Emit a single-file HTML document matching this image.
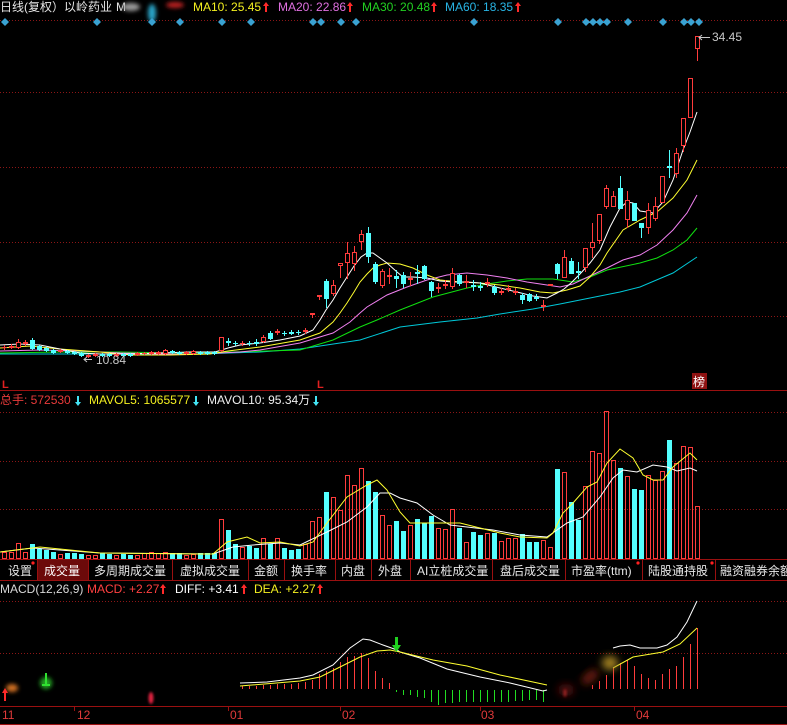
<!DOCTYPE html>
<html><head><meta charset="utf-8">
<style>
html,body{margin:0;padding:0;background:#000;width:787px;height:725px;overflow:hidden}
svg{display:block}
text{font-family:"Liberation Sans","Noto Sans CJK SC",sans-serif;font-size:12px}
</style></head><body>
<svg width="787" height="725" viewBox="0 0 787 725" xmlns="http://www.w3.org/2000/svg">
<defs>
<filter id="b1" x="-50%" y="-50%" width="200%" height="200%"><feGaussianBlur stdDeviation="1.2"/></filter>
<filter id="b2" x="-50%" y="-50%" width="200%" height="200%"><feGaussianBlur stdDeviation="2.2"/></filter>
<filter id="b3" x="-50%" y="-50%" width="200%" height="200%"><feGaussianBlur stdDeviation="4"/></filter>
</defs>
<rect width="787" height="725" fill="#000"/>

<!-- dotted grid -->
<g stroke="#8c1616" stroke-dasharray="1 2" stroke-width="1" shape-rendering="crispEdges">
<path d="M0 20.5H787M0 92.5H787M0 167.5H787M0 242.5H787M0 316.5H787M0 412.5H787M0 461.5H787M0 509.5H787M0 601.5H787M0 653.5H787"/>
</g>

<!-- solid separators -->
<g stroke="#9a1010" stroke-width="1" shape-rendering="crispEdges" fill="none">
<path d="M0 390.5H787M0 559.5H787M0 580.5H787M0 706.5H787M0 724.5H787"/>
<path d="M74.5 706V711M228.5 706V711M340.5 706V711M480.5 706V711M634.5 706V711"/>
</g>

<!-- header -->
<text x="0" y="11" fill="#e6e6e6">日线(复权）以岭药业</text>
<text x="116" y="11" fill="#e6e6e6">M</text>
<g filter="url(#b2)">
<ellipse cx="131" cy="7" rx="9" ry="4" fill="#9a9a9a"/>
<ellipse cx="152" cy="13" rx="4" ry="9" fill="#2aa8cc"/>
<ellipse cx="175" cy="5" rx="9" ry="3" fill="#c02020"/>
</g>
<text x="193" y="11" fill="#f4f020">MA10: 25.45</text>
<text x="278" y="11" fill="#e070e0">MA20: 22.86</text>
<text x="362" y="11" fill="#22d022">MA30: 20.48</text>
<text x="445" y="11" fill="#28b4e4">MA60: 18.35</text>
<g fill="#ff2a2a">
<path d="M263 6L266 2L269 6H267V12H265V6Z"/>
<path d="M347 6L350 2L353 6H351V12H349V6Z"/>
<path d="M431 6L434 2L437 6H435V12H433V6Z"/>
<path d="M515 6L518 2L521 6H519V12H517V6Z"/>
</g>

<!-- diamonds -->
<g fill="#3aa2d2">
<path d="M5 18l4 4-4 4-4-4zM97 18l4 4-4 4-4-4zM152 18l4 4-4 4-4-4zM180 18l4 4-4 4-4-4zM222 18l4 4-4 4-4-4zM251 18l4 4-4 4-4-4zM313 18l4 4-4 4-4-4zM321 18l4 4-4 4-4-4zM341 18l4 4-4 4-4-4zM356 18l4 4-4 4-4-4zM474 18l4 4-4 4-4-4zM558 18l4 4-4 4-4-4zM586 18l4 4-4 4-4-4zM593 18l4 4-4 4-4-4zM600 18l4 4-4 4-4-4zM607 18l4 4-4 4-4-4zM628 18l4 4-4 4-4-4zM663 18l4 4-4 4-4-4zM684 18l4 4-4 4-4-4zM691 18l4 4-4 4-4-4zM699 18l4 4-4 4-4-4z"/>
</g>

<!-- MA lines main -->
<g fill="none" stroke-width="1">
<polyline stroke="#00c8d8" points="0,354 100,354 200,354 260,352 300,349 360,340 400,327 440,322 477,318 500,314 533,309 560,304 590,298 620,292 640,287 673,273 697,257"/>
<polyline stroke="#10e010" points="0,353 60,352 120,352 180,353 233,352 300,350 333,340 360,327 377,320 400,310 433,297 467,288 487,284 507,281 527,279 553,279 573,282 590,277 607,270 640,263 657,258 673,250 687,240 697,228"/>
<polyline stroke="#f080f0" points="0,351 40,350 80,351 120,353 160,354 200,354 240,352 260,350 300,343 333,333 350,322 360,313 367,307 387,295 407,287 427,280 447,275 467,273 487,275 507,278 527,282 547,285 560,287 573,284 590,276 607,268 623,260 640,255 657,245 673,230 687,213 697,195"/>
<polyline stroke="#ffff30" points="0,348 30,346 60,349 100,352 130,355 170,355 210,354 228,351 260,347 300,340 320,333 333,322 340,313 347,303 354,292 360,282 367,274 373,268 380,265 387,263 400,264 413,268 427,275 440,280 460,282 480,283 500,285 520,288 540,292 553,293 567,290 580,286 590,277 600,265 607,253 623,230 640,220 657,212 673,198 687,180 697,160"/>
<polyline stroke="#ffffff" points="0,345 20,344 40,345 60,349 80,353 100,354 130,354 160,353 190,352 215,352 228,348 240,345 260,343 280,340 300,336 313,330 320,320 326,310 333,300 340,288 347,277 354,266 361,257 367,253 373,253 380,258 387,263 397,272 403,277 413,277 427,278 440,281 453,282 467,282 480,283 500,288 517,292 533,296 547,298 557,293 564,289 571,283 580,274 590,263 600,250 610,227 620,208 627,202 633,203 640,211 647,212 653,213 663,202 673,180 683,150 690,132 697,112"/>
</g>

<!-- candles -->
<g shape-rendering="crispEdges">
<path fill="none" stroke="#ff3c3c" d="M4.5 345V350M11.5 344V349M18.5 339V349M25.5 340V346M60.5 349V353M88.5 354V358M95.5 353V357M116.5 353V357M137.5 352V356M144.5 352V355M151.5 351V355M158.5 351V355M165.5 349V355M186.5 351V355M193.5 350V355M221.5 337V352M242.5 341V346M263.5 335V343M277.5 329V335M305.5 328V334M312.5 313V318M319.5 295V300M333.5 280V296M340.5 263V278M347.5 242V279M354.5 246V271M361.5 230V250M382.5 269V288M389.5 268V284M410.5 272V286M438.5 283V293M445.5 280V289M452.5 268V289M466.5 275V288M487.5 278V287M501.5 288V295M508.5 285V292M515.5 288V295M543.5 300V311M550.5 284V286M564.5 250V278M585.5 248V272M592.5 223V258M599.5 214V244M606.5 185V209M613.5 191V207M627.5 191V228M648.5 203V234M655.5 197V221M662.5 176V203M676.5 148V178M683.5 118V152M690.5 78V118M697.5 36V61M2 347.5H7M142 353.5H147M240 343.5H245"/>
<g fill="#000" stroke="#ff3c3c">
<rect x="9.5" y="346.5" width="4" height="1"/><rect x="16.5" y="342.5" width="4" height="5"/><rect x="23.5" y="342.5" width="4" height="1"/><rect x="58.5" y="350.5" width="4" height="1"/><rect x="86.5" y="355.5" width="4" height="1"/><rect x="93.5" y="354.5" width="4" height="1"/><rect x="114.5" y="354.5" width="4" height="1"/><rect x="135.5" y="353.5" width="4" height="1"/><rect x="149.5" y="352.5" width="4" height="1"/><rect x="156.5" y="352.5" width="4" height="1"/><rect x="163.5" y="350.5" width="4" height="3"/><rect x="184.5" y="352.5" width="4" height="1"/><rect x="191.5" y="351.5" width="4" height="2"/><rect x="219.5" y="337.5" width="4" height="13"/><rect x="261.5" y="337.5" width="4" height="4"/><rect x="275.5" y="331.5" width="4" height="1"/><rect x="303.5" y="330.5" width="4" height="1"/><rect x="310.5" y="313.5" width="4" height="1"/><rect x="317.5" y="295.5" width="4" height="1"/><rect x="331.5" y="285.5" width="4" height="8"/><rect x="338.5" y="263.5" width="4" height="2"/><rect x="345.5" y="253.5" width="4" height="9"/><rect x="352.5" y="252.5" width="4" height="11"/><rect x="359.5" y="234.5" width="4" height="7"/><rect x="380.5" y="271.5" width="4" height="14"/><rect x="387.5" y="275.5" width="4" height="1"/><rect x="408.5" y="278.5" width="4" height="1"/><rect x="436.5" y="287.5" width="4" height="1"/><rect x="443.5" y="284.5" width="4" height="1"/><rect x="450.5" y="273.5" width="4" height="13"/><rect x="464.5" y="281.5" width="4" height="1"/><rect x="485.5" y="282.5" width="4" height="1"/><rect x="499.5" y="291.5" width="4" height="1"/><rect x="506.5" y="288.5" width="4" height="1"/><rect x="513.5" y="291.5" width="4" height="1"/><rect x="541.5" y="305.5" width="4" height="1"/><rect x="548.5" y="284.5" width="4" height="1"/><rect x="562.5" y="257.5" width="4" height="20"/><rect x="583.5" y="248.5" width="4" height="19"/><rect x="590.5" y="242.5" width="4" height="5"/><rect x="597.5" y="214.5" width="4" height="26"/><rect x="604.5" y="188.5" width="4" height="18"/><rect x="611.5" y="196.5" width="4" height="10"/><rect x="625.5" y="200.5" width="4" height="19"/><rect x="646.5" y="210.5" width="4" height="17"/><rect x="653.5" y="206.5" width="4" height="12"/><rect x="660.5" y="176.5" width="4" height="26"/><rect x="674.5" y="153.5" width="4" height="20"/><rect x="681.5" y="118.5" width="4" height="27"/><rect x="688.5" y="78.5" width="4" height="39"/><rect x="695.5" y="36.5" width="4" height="12"/>
</g>
<path fill="none" stroke="#54ffff" d="M32.5 338V350M39.5 345V351M46.5 347V352M53.5 349V354M67.5 350V354M74.5 351V355M81.5 352V357M102.5 353V357M109.5 353V357M123.5 353V357M130.5 353V357M172.5 350V354M179.5 351V355M200.5 351V355M207.5 351V355M214.5 351V355M228.5 338V346M235.5 341V346M249.5 341V346M256.5 339V346M270.5 331V340M284.5 331V336M291.5 330V335M298.5 330V335M326.5 279V308M368.5 227V263M375.5 262V284M396.5 270V288M403.5 272V288M417.5 265V284M424.5 265V280M431.5 281V297M459.5 274V286M473.5 280V291M480.5 282V291M494.5 285V295M522.5 293V304M529.5 293V302M536.5 294V301M557.5 263V279M571.5 258V274M578.5 262V279M620.5 176V209M634.5 203V221M641.5 223V238M669.5 150V178"/>
<g fill="#54ffff">
<rect x="30" y="340" width="5" height="9"/><rect x="37" y="346" width="5" height="4"/><rect x="44" y="348" width="5" height="3"/><rect x="51" y="350" width="5" height="3"/><rect x="65" y="351" width="5" height="2"/><rect x="72" y="352" width="5" height="2"/><rect x="79" y="353" width="5" height="3"/><rect x="100" y="354" width="5" height="2"/><rect x="107" y="354" width="5" height="2"/><rect x="121" y="354" width="5" height="2"/><rect x="128" y="354" width="5" height="2"/><rect x="170" y="351" width="5" height="2"/><rect x="177" y="352" width="5" height="2"/><rect x="198" y="352" width="5" height="2"/><rect x="205" y="352" width="5" height="2"/><rect x="212" y="352" width="5" height="2"/><rect x="226" y="341" width="5" height="2"/><rect x="233" y="343" width="5" height="1"/><rect x="247" y="343" width="5" height="1"/><rect x="254" y="342" width="5" height="2"/><rect x="268" y="333" width="5" height="6"/><rect x="282" y="333" width="5" height="1"/><rect x="289" y="332" width="5" height="2"/><rect x="296" y="332" width="5" height="1"/><rect x="324" y="281" width="5" height="18"/><rect x="366" y="233" width="5" height="24"/><rect x="373" y="264" width="5" height="18"/><rect x="394" y="276" width="5" height="3"/><rect x="401" y="275" width="5" height="9"/><rect x="415" y="272" width="5" height="2"/><rect x="422" y="266" width="5" height="13"/><rect x="429" y="282" width="5" height="9"/><rect x="457" y="275" width="5" height="9"/><rect x="471" y="285" width="5" height="2"/><rect x="478" y="286" width="5" height="2"/><rect x="492" y="287" width="5" height="6"/><rect x="520" y="295" width="5" height="5"/><rect x="527" y="294" width="5" height="7"/><rect x="534" y="297" width="5" height="2"/><rect x="555" y="264" width="5" height="10"/><rect x="569" y="261" width="5" height="13"/><rect x="576" y="271" width="5" height="2"/><rect x="618" y="188" width="5" height="21"/><rect x="632" y="203" width="5" height="18"/><rect x="639" y="223" width="5" height="5"/><rect x="667" y="166" width="5" height="2"/>
</g>
</g>

<!-- price labels -->
<g stroke="#c8c8c8" fill="none"><path d="M699 37.5H710M702 35L699 37.5L702 40"/><path d="M84 359.5H92M87 357L84 359.5L87 362"/></g>
<text x="712" y="41" fill="#c8c8c8">34.45</text>
<text x="96" y="364" fill="#c8c8c8">10.84</text>

<!-- L markers & 榜 -->
<text x="2" y="388" fill="#e02020" style="font-size:11px;font-weight:bold">L</text>
<text x="317" y="388" fill="#e02020" style="font-size:11px;font-weight:bold">L</text>
<rect x="692" y="373" width="15" height="16" fill="#8e1212"/>
<text x="693" y="386" fill="#ffffff">榜</text>

<!-- volume header -->
<text x="0" y="404" fill="#e83a3a">总手: 572530</text>
<text x="89" y="404" fill="#f4f020">MAVOL5: 1065577</text>
<text x="207" y="404" fill="#f0f0f0">MAVOL10: 95.34万</text>
<g fill="#44e4f4">
<path d="M77 396H79V402H81L78 406L75 402H77Z"/>
<path d="M195 396H197V402H199L196 406L193 402H195Z"/>
<path d="M315 396H317V402H319L316 406L313 402H315Z"/>
</g>

<!-- volume bars -->
<g shape-rendering="crispEdges">
<g fill="none" stroke="#ff3c3c">
<rect x="2.5" y="552.5" width="4" height="6"/><rect x="9.5" y="552.5" width="4" height="6"/><rect x="16.5" y="543.5" width="4" height="15"/><rect x="23.5" y="552.5" width="4" height="6"/><rect x="58.5" y="554.5" width="4" height="4"/><rect x="86.5" y="555.5" width="4" height="3"/><rect x="93.5" y="555.5" width="4" height="3"/><rect x="114.5" y="555.5" width="4" height="3"/><rect x="135.5" y="555.5" width="4" height="3"/><rect x="142.5" y="553.5" width="4" height="5"/><rect x="149.5" y="552.5" width="4" height="6"/><rect x="156.5" y="553.5" width="4" height="5"/><rect x="163.5" y="552.5" width="4" height="6"/><rect x="184.5" y="555.5" width="4" height="3"/><rect x="191.5" y="554.5" width="4" height="4"/><rect x="219.5" y="519.5" width="4" height="39"/><rect x="240.5" y="547.5" width="4" height="11"/><rect x="261.5" y="538.5" width="4" height="20"/><rect x="275.5" y="538.5" width="4" height="20"/><rect x="303.5" y="544.5" width="4" height="14"/><rect x="310.5" y="521.5" width="4" height="37"/><rect x="317.5" y="517.5" width="4" height="41"/><rect x="331.5" y="497.5" width="4" height="61"/><rect x="338.5" y="510.5" width="4" height="48"/><rect x="345.5" y="475.5" width="4" height="83"/><rect x="352.5" y="485.5" width="4" height="73"/><rect x="359.5" y="468.5" width="4" height="90"/><rect x="380.5" y="515.5" width="4" height="43"/><rect x="387.5" y="525.5" width="4" height="33"/><rect x="408.5" y="525.5" width="4" height="33"/><rect x="436.5" y="528.5" width="4" height="30"/><rect x="443.5" y="529.5" width="4" height="29"/><rect x="450.5" y="509.5" width="4" height="49"/><rect x="464.5" y="542.5" width="4" height="16"/><rect x="485.5" y="533.5" width="4" height="25"/><rect x="499.5" y="541.5" width="4" height="17"/><rect x="506.5" y="538.5" width="4" height="20"/><rect x="513.5" y="538.5" width="4" height="20"/><rect x="541.5" y="540.5" width="4" height="18"/><rect x="548.5" y="547.5" width="4" height="11"/><rect x="562.5" y="472.5" width="4" height="86"/><rect x="583.5" y="486.5" width="4" height="72"/><rect x="590.5" y="451.5" width="4" height="107"/><rect x="597.5" y="453.5" width="4" height="105"/><rect x="604.5" y="411.5" width="4" height="147"/><rect x="611.5" y="460.5" width="4" height="98"/><rect x="625.5" y="476.5" width="4" height="82"/><rect x="646.5" y="475.5" width="4" height="83"/><rect x="653.5" y="480.5" width="4" height="78"/><rect x="660.5" y="471.5" width="4" height="87"/><rect x="674.5" y="463.5" width="4" height="95"/><rect x="681.5" y="446.5" width="4" height="112"/><rect x="688.5" y="447.5" width="4" height="111"/><rect x="695.5" y="506.5" width="4" height="52"/>
</g>
<g fill="#54ffff">
<rect x="30" y="544" width="5" height="15"/><rect x="37" y="549" width="5" height="10"/><rect x="44" y="550" width="5" height="9"/><rect x="51" y="552" width="5" height="7"/><rect x="65" y="553" width="5" height="6"/><rect x="72" y="553" width="5" height="6"/><rect x="79" y="554" width="5" height="5"/><rect x="100" y="553" width="5" height="6"/><rect x="107" y="554" width="5" height="5"/><rect x="121" y="554" width="5" height="5"/><rect x="128" y="555" width="5" height="4"/><rect x="170" y="553" width="5" height="6"/><rect x="177" y="553" width="5" height="6"/><rect x="198" y="553" width="5" height="6"/><rect x="205" y="553" width="5" height="6"/><rect x="212" y="553" width="5" height="6"/><rect x="226" y="530" width="5" height="29"/><rect x="233" y="544" width="5" height="15"/><rect x="247" y="546" width="5" height="13"/><rect x="254" y="548" width="5" height="11"/><rect x="268" y="544" width="5" height="15"/><rect x="282" y="548" width="5" height="11"/><rect x="289" y="550" width="5" height="9"/><rect x="296" y="549" width="5" height="10"/><rect x="324" y="492" width="5" height="67"/><rect x="366" y="481" width="5" height="78"/><rect x="373" y="492" width="5" height="67"/><rect x="394" y="521" width="5" height="38"/><rect x="401" y="531" width="5" height="28"/><rect x="415" y="519" width="5" height="40"/><rect x="422" y="523" width="5" height="36"/><rect x="429" y="516" width="5" height="43"/><rect x="457" y="528" width="5" height="31"/><rect x="471" y="532" width="5" height="27"/><rect x="478" y="535" width="5" height="24"/><rect x="492" y="533" width="5" height="26"/><rect x="520" y="534" width="5" height="25"/><rect x="527" y="542" width="5" height="17"/><rect x="534" y="542" width="5" height="17"/><rect x="555" y="469" width="5" height="90"/><rect x="569" y="502" width="5" height="57"/><rect x="576" y="520" width="5" height="39"/><rect x="618" y="468" width="5" height="91"/><rect x="632" y="489" width="5" height="70"/><rect x="639" y="490" width="5" height="69"/><rect x="667" y="440" width="5" height="119"/>
</g>
</g>
<g fill="none" stroke-width="1">
<polyline stroke="#ffffff" points="0,552 33,548 100,553 213,554 233,547 253,545 280,543 300,545 327,532 347,522 367,507 380,493 390,493 400,498 417,503 433,515 450,525 467,527 493,530 520,535 547,537 557,530 567,523 583,517 600,497 613,478 623,470 637,472 653,465 667,467 677,471 690,468 697,471"/>
<polyline stroke="#ffff30" points="0,552 40,547 100,553 200,554 213,554 227,542 247,537 260,543 280,542 300,546 313,542 327,523 347,497 367,485 377,480 387,490 400,512 410,523 433,523 460,523 480,528 500,533 520,537 547,538 553,533 563,513 573,503 587,487 597,482 607,463 620,449 633,458 643,475 653,480 663,480 673,467 690,453 697,460"/>
</g>

<!-- tab bar -->
<rect x="38" y="560" width="50" height="20" fill="#6c0a0a"/>
<g stroke="#9a1010" shape-rendering="crispEdges"><path d="M37.5 560V580M88.5 560V580M172.5 560V580M248.5 560V580M284.5 560V580M335.5 560V580M371.5 560V580M410.5 560V580M492.5 560V580M565.5 560V580M642.5 560V580M715.5 560V580"/></g>
<g fill="#e8e8e8">
<text x="8" y="575">设置</text>
<text x="44" y="575" fill="#ffffff">成交量</text>
<text x="94" y="575">多周期成交量</text>
<text x="180" y="575">虚拟成交量</text>
<text x="254" y="575">金额</text>
<text x="291" y="575">换手率</text>
<text x="341" y="575">内盘</text>
<text x="378" y="575">外盘</text>
<text x="417" y="575">AI立桩成交量</text>
<text x="500" y="575">盘后成交量</text>
<text x="571" y="575">市盈率(ttm)</text>
<text x="648" y="575">陆股通持股</text>
<text x="720" y="575">融资融券余额</text>
</g>
<g fill="#ff2020"><circle cx="33" cy="563" r="1.6"/><circle cx="638" cy="563" r="1.6"/><circle cx="712" cy="563" r="1.6"/></g>

<!-- MACD header -->
<text x="0" y="593" fill="#d8d8d8">MACD(12,26,9)</text>
<text x="87" y="593" fill="#ff4040">MACD: +2.27</text>
<text x="175" y="593" fill="#ffffff">DIFF: +3.41</text>
<text x="254" y="593" fill="#f4f020">DEA: +2.27</text>
<g fill="#ff2a2a">
<path d="M160 588L163 584L166 588H164V594H162V588Z"/>
<path d="M241 588L244 584L247 588H245V594H243V588Z"/>
<path d="M317 588L320 584L323 588H321V594H319V588Z"/>
</g>

<!-- MACD bars -->
<g stroke="#ff3c3c" shape-rendering="crispEdges" fill="none">
<path d="M242.5 686V689M249.5 686V689M256.5 686V689M263.5 685V689M270.5 685V689M277.5 684V689M284.5 684V689M291.5 684V689M298.5 683V689M305.5 682V689M312.5 680V689M319.5 674V689M326.5 671V689M333.5 668V689M340.5 662V689M347.5 657V689M354.5 656V689M361.5 653V689M368.5 658V689M375.5 671V689M382.5 678V689M389.5 683V689M592.5 685V689M599.5 681V689M606.5 675V689M613.5 667V689M620.5 663V689M627.5 660V689M634.5 666V689M641.5 674V689M648.5 678V689M655.5 680V689M662.5 674V689M669.5 669V689M676.5 666V689M683.5 657V689M690.5 644V689M697.5 628V689"/>
</g>
<g stroke="#22dd22" shape-rendering="crispEdges" fill="none">
<path d="M396.5 690V692M403.5 690V695M410.5 690V695M417.5 690V697M424.5 690V698M431.5 690V702M438.5 690V705M445.5 690V703M452.5 690V703M459.5 690V702M466.5 690V702M473.5 690V702M480.5 690V702M487.5 690V702M494.5 690V702M501.5 690V702M508.5 690V702M515.5 690V701M522.5 690V701M529.5 690V700M536.5 690V700M543.5 690V702"/>
</g>
<g fill="none" stroke-width="1">
<polyline stroke="#ffffff" points="240,683 267,682 300,678 313,675 333,665 350,648 363,639 370,640 383,645 397,650 400,652 420,658 447,669 480,677 510,683 543,691 547,690"/>
<polyline stroke="#ffff30" points="240,686 300,681 320,677 340,667 360,657 377,651 390,650 400,652 433,660 467,666 500,675 533,682 547,685"/>
<polyline stroke="#ffffff" points="613,648 620,646 630,645 640,648 657,648 667,645 677,637 687,622 697,601"/>
<polyline stroke="#ffff30" points="613,668 633,657 663,652 680,644 697,628"/>
</g>

<!-- MACD markers / glows -->
<ellipse cx="12" cy="688" rx="6" ry="4" fill="#d07020" filter="url(#b2)"/>
<path d="M2 693L5 688L8 693H6V701H4V693Z" fill="#ff2a2a"/>
<ellipse cx="46" cy="683" rx="6" ry="6" fill="#20a020" filter="url(#b2)"/>
<path d="M45 673H47V684H50V686H42V684H45Z" fill="#30e030"/>
<ellipse cx="151" cy="698" rx="2.5" ry="6" fill="#e02040" filter="url(#b1)"/>
<path d="M395 637H398V645H401L396.5 652L392 645H395Z" fill="#20d020"/>
<ellipse cx="566" cy="690" rx="8" ry="6" fill="#501010" filter="url(#b3)"/>
<ellipse cx="565" cy="693" rx="1.5" ry="4" fill="#a02020" filter="url(#b1)"/>
<ellipse cx="590" cy="677" rx="10" ry="5" fill="#6a1a10" filter="url(#b3)" transform="rotate(-40 590 677)"/>
<ellipse cx="610" cy="663" rx="8" ry="7" fill="#a08020" filter="url(#b3)"/>

<!-- dates -->
<g fill="#e03a3a">
<text x="2" y="719">11</text>
<text x="77" y="719">12</text>
<text x="230" y="719">01</text>
<text x="342" y="719">02</text>
<text x="481" y="719">03</text>
<text x="636" y="719">04</text>
</g>
</svg>
</body></html>
